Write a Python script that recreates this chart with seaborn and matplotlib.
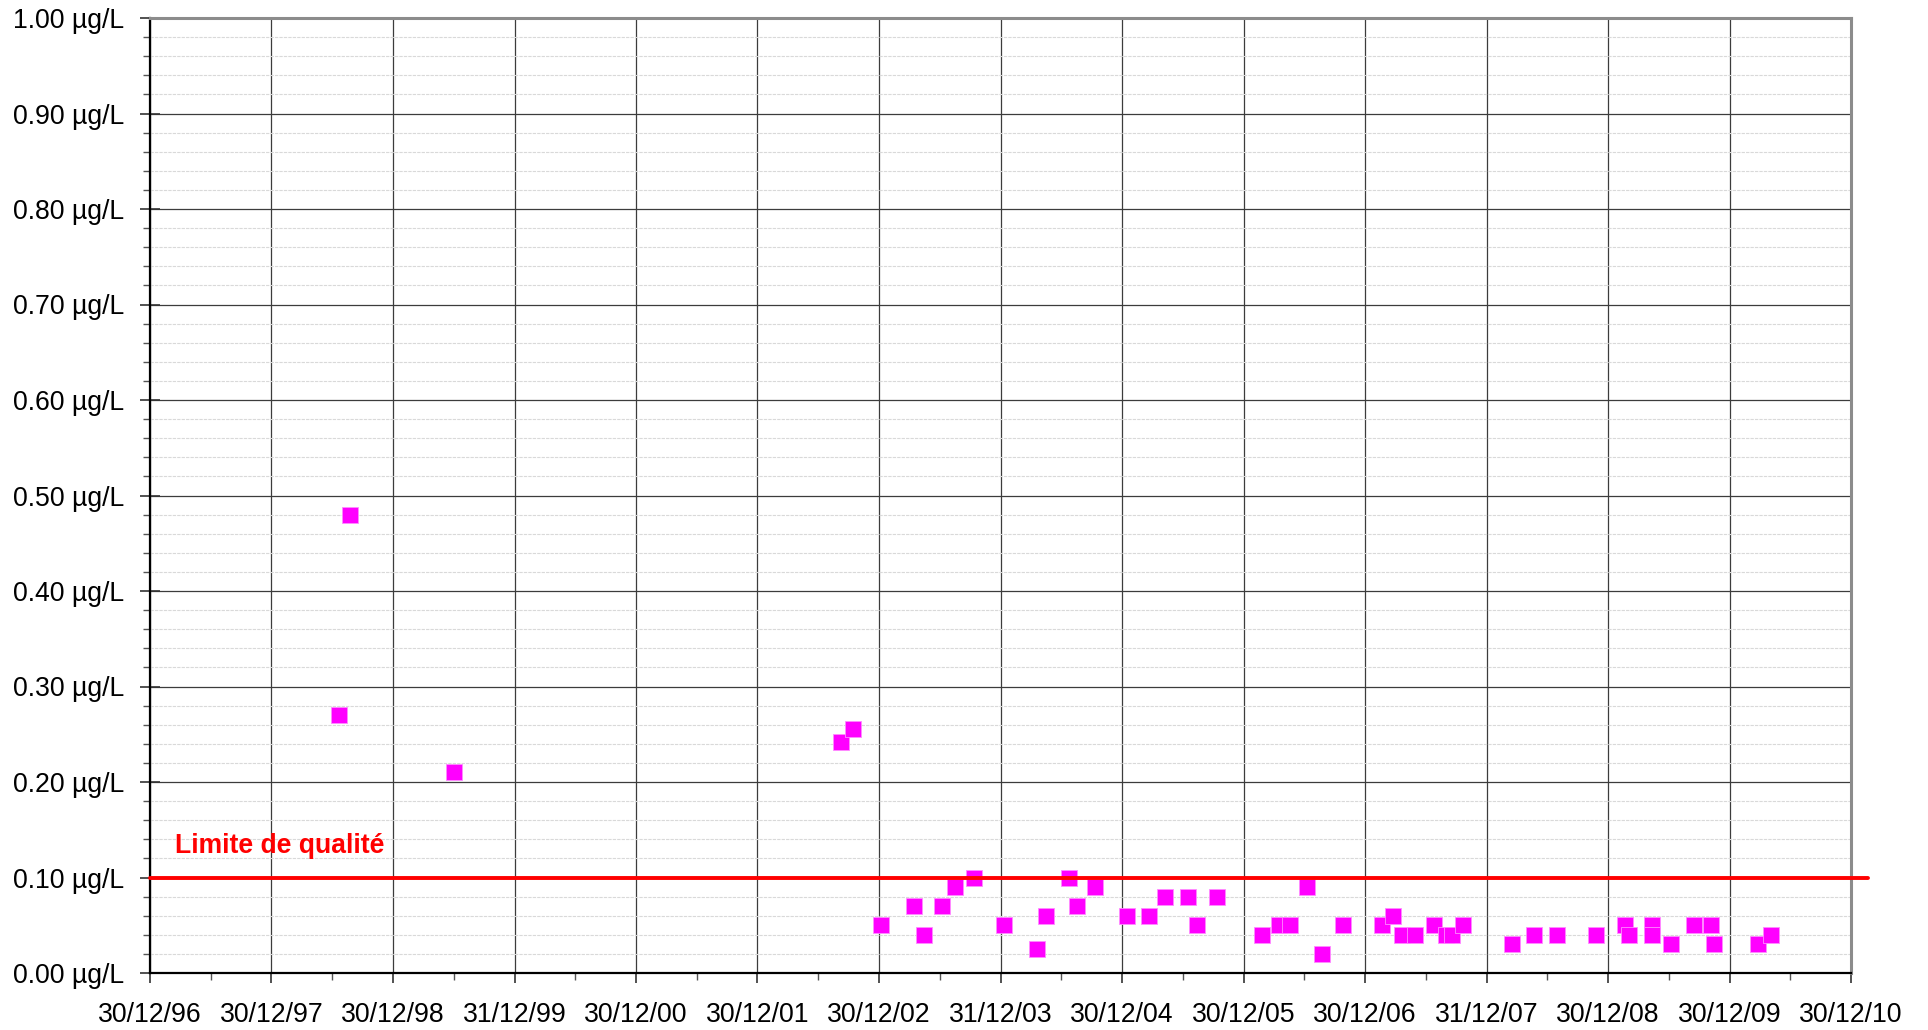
import matplotlib
matplotlib.use("Agg")
import matplotlib.pyplot as plt
import matplotlib.dates as mdates
from matplotlib.ticker import FixedLocator, MultipleLocator, FuncFormatter
import pandas as pd
import seaborn as sns

# Sampling dates and measured concentrations (µg/L)
sample_dates = [
    "1998-07-22", "1998-08-24", "1999-07-01", "2002-09-08", "2002-10-14",
    "2003-01-06", "2003-04-15", "2003-05-14", "2003-07-08", "2003-08-17",
    "2003-10-11", "2004-01-11", "2004-04-19", "2004-05-14", "2004-07-22",
    "2004-08-17", "2004-10-11", "2005-01-14", "2005-03-20", "2005-05-07",
    "2005-07-15", "2005-08-13", "2005-10-11", "2006-02-23", "2006-04-15",
    "2006-05-18", "2006-07-08", "2006-08-24", "2006-10-26", "2007-02-19",
    "2007-03-24", "2007-04-19", "2007-05-29", "2007-07-26", "2007-09-01",
    "2007-09-19", "2007-10-22", "2008-03-17", "2008-05-21", "2008-07-30",
    "2008-11-24", "2009-02-19", "2009-03-02", "2009-05-10", "2009-05-11",
    "2009-07-08", "2009-09-15", "2009-11-05", "2009-11-13", "2010-03-24",
    "2010-05-03",
]
concentrations = [
    0.27, 0.48, 0.21, 0.242, 0.256,
    0.05, 0.07, 0.04, 0.07, 0.09,
    0.10, 0.05, 0.025, 0.06, 0.10,
    0.07, 0.09, 0.06, 0.06, 0.08,
    0.08, 0.05, 0.08, 0.04, 0.05,
    0.05, 0.09, 0.02, 0.05, 0.05,
    0.06, 0.04, 0.04, 0.05, 0.04,
    0.04, 0.05, 0.03, 0.04, 0.04,
    0.04, 0.05, 0.04, 0.05, 0.04,
    0.03, 0.05, 0.05, 0.03, 0.03,
    0.04,
]

# Quality limit
limit_value = 0.10
limit_label = "Limite de qualité"
limit_span = ["1996-12-30", "2011-02-18"]
limit_label_pos = ("1997-03-15", 0.133)

# Axis ticks
x_tick_labels = [
    "30/12/96", "30/12/97", "30/12/98", "31/12/99", "30/12/00",
    "30/12/01", "30/12/02", "31/12/03", "30/12/04", "30/12/05",
    "30/12/06", "31/12/07", "30/12/08", "30/12/09", "30/12/10",
]
y_ticks = [0.0, 0.1, 0.2, 0.3, 0.4, 0.5, 0.6, 0.7, 0.8, 0.9, 1.0]

sns.set_theme(style="white")
plt.rcParams["font.family"] = ["Liberation Sans", "DejaVu Sans"]

df = pd.DataFrame({"date": pd.to_datetime(sample_dates), "value": concentrations})
x_ticks = pd.to_datetime(x_tick_labels, format="%d/%m/%y")

fig = plt.figure(figsize=(19.28, 10.30), dpi=100)
ax = fig.add_axes([150 / 1928, 57 / 1030, 1701 / 1928, 955 / 1030])

sns.scatterplot(
    data=df, x="date", y="value", ax=ax, marker="s", s=130,
    color="#FF00FF", edgecolor="#FF8CFF", linewidth=0.6, zorder=3, legend=False,
)

limit_df = pd.DataFrame({"date": pd.to_datetime(limit_span),
                         "value": [limit_value] * len(limit_span)})
sns.lineplot(data=limit_df, x="date", y="value", ax=ax, color="#FF0000",
             linewidth=2.8, zorder=4, legend=False, clip_on=False)

ax.text(pd.Timestamp(limit_label_pos[0]), limit_label_pos[1], limit_label,
        color="#FF0000", fontweight="bold", fontsize=19.1, va="center", ha="left")

# Axes limits and ticks
ax.set_xlim(x_ticks[0], x_ticks[-1])
ax.set_ylim(y_ticks[0], y_ticks[-1])
x_num = mdates.date2num(x_ticks)
ax.xaxis.set_major_locator(FixedLocator(x_num))
ax.xaxis.set_major_formatter(FuncFormatter(
    lambda v, pos: x_tick_labels[pos] if pos is not None and pos < len(x_tick_labels) else ""))
ax.xaxis.set_minor_locator(FixedLocator([(a + b) / 2 for a, b in zip(x_num[:-1], x_num[1:])]))
ax.yaxis.set_major_locator(FixedLocator(y_ticks))
ax.yaxis.set_major_formatter(FuncFormatter(lambda v, pos: f"{v:.2f} µg/L"))
ax.yaxis.set_minor_locator(MultipleLocator(0.02))

ax.set_xlabel("")
ax.set_ylabel("")

ax.tick_params(axis="both", which="major", direction="out", length=7, width=1.2,
               color="#333333", labelsize=19.2, labelcolor="black")
ax.tick_params(axis="x", which="major", pad=14)
ax.tick_params(axis="y", which="major", direction="inout", length=15, pad=11)
ax.tick_params(axis="both", which="minor", direction="out", length=5, width=1,
               color="#555555")
ax.tick_params(bottom=True, left=True, which="both")

# Grid
ax.grid(True, which="major", axis="both", color="#3C3C3C", linewidth=0.9, zorder=0)
ax.grid(True, which="minor", axis="y", color="#D9D9D9", linewidth=0.8,
        linestyle=(0, (3, 1)), zorder=0)
ax.set_axisbelow(True)

for side in ("left", "bottom"):
    ax.spines[side].set_color("black")
    ax.spines[side].set_linewidth(1.6)
for side in ("top", "right"):
    ax.spines[side].set_color("#8C8C8C")
    ax.spines[side].set_linewidth(2.2)

fig.savefig("out.png", dpi=100, facecolor="white")
